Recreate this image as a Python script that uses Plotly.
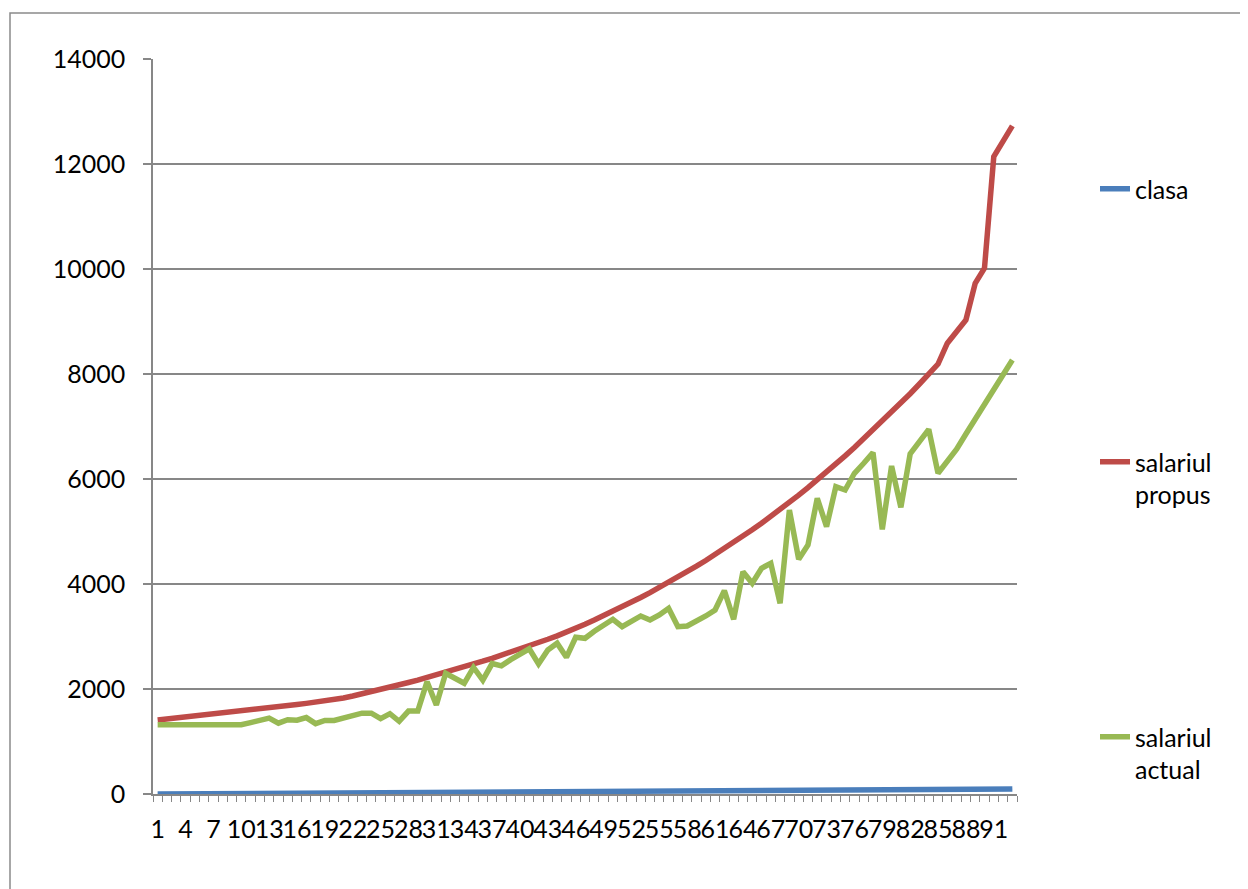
import plotly.graph_objects as go

# ---- data ----
classes = list(range(1, 94))
clasa = list(range(1, 94))
salariul_propus = [
    1410, 1428, 1446, 1464, 1483, 1502, 1521, 1540, 1560, 1580,
    1600, 1620, 1641, 1662, 1683, 1704, 1726, 1748, 1770, 1793,
    1828, 1866, 1905, 1945, 1988, 2032, 2077, 2123, 2170, 2218,
    2267, 2317, 2368, 2420, 2474, 2529, 2585, 2642, 2700, 2760,
    2821, 2883, 2947, 3012, 3079, 3155, 3233, 3313, 3395, 3479,
    3565, 3653, 3744, 3837, 3932, 4029, 4130, 4233, 4339, 4447,
    4558, 4672, 4789, 4909, 5032, 5157, 5286, 5418, 5554, 5693,
    5835, 5981, 6130, 6283, 6440, 6601, 6766, 6935, 7100, 7270,
    7445, 7625, 7810, 8000, 8190, 8586, 8808, 9030, 9729, 10015,
    12140, 12430, 12725,
]
salariul_actual = [
    1320, 1320, 1320, 1320, 1320, 1320, 1320, 1320, 1320, 1320,
    1360, 1400, 1445, 1350, 1415, 1405, 1455, 1340, 1400, 1400,
    1450, 1500, 1540, 1540, 1435, 1530, 1385, 1580, 1580, 2139,
    1695, 2299, 2210, 2109, 2410, 2170, 2485, 2440, 2560, 2658,
    2766, 2477, 2743, 2871, 2604, 2985, 2966, 3100, 3206, 3328,
    3187, 3301, 3391, 3315, 3410, 3537, 3187, 3200, 3282, 3391,
    3505, 3873, 3328, 4235, 4014, 4300, 4395, 3633, 5410, 4470,
    4743, 5633, 5092, 5854, 5791, 6109, 6300, 6502, 5042, 6248,
    5461, 6477, 6711, 6947, 6109, 6330, 6566, 6858, 7138, 7410,
    7696, 7982, 8268,
]
tick_classes = classes[::3]
tick_labels = [str(c) for c in tick_classes]
y_ticks = [0, 2000, 4000, 6000, 8000, 10000, 12000, 14000]
y_labels = [str(v) for v in y_ticks]

FONT = "Lato, 'Open Sans', sans-serif"
FS = 25
GRID = "#878787"
LW = 5.5

fig = go.Figure()
fig.add_trace(go.Scatter(x=classes, y=clasa, mode="lines", name="clasa",
                         line=dict(color="#4A7EBB", width=LW), legend="legend"))
fig.add_trace(go.Scatter(x=classes, y=salariul_propus, mode="lines",
                         name="salariul<br>propus",
                         line=dict(color="#BE4B48", width=LW), legend="legend2"))
fig.add_trace(go.Scatter(x=classes, y=salariul_actual, mode="lines",
                         name="salariul<br>actual",
                         line=dict(color="#98B954", width=LW), legend="legend3"))

W, H = 1240, 881
# page has an 8px offset; plot area in page px: x 153..1017, y 59..794
PL, PR, PT, PB = 153 - 8, 1017 - 8, 59 - 8, 794 - 8
PW, PH = PR - PL, PB - PT

def leg(px, py):
    return dict(x=px / W, y=1 - py / H, xref="container", yref="container",
                xanchor="left", yanchor="top", bgcolor="rgba(0,0,0,0)",
                font=dict(family=FONT, size=FS, color="#000"),
                valign="top", itemwidth=30, tracegroupgap=0)

fig.update_layout(
    width=W, height=H,
    margin=dict(l=PL, r=W - PR, t=PT, b=H - PB),
    paper_bgcolor="white", plot_bgcolor="white",
    font=dict(family=FONT, size=FS, color="#000"),
    showlegend=True,
    legend=leg(1087, 158),
    legend2=leg(1087, 431),
    legend3=leg(1087, 706),
    xaxis=dict(
        range=[0.5, 93.5], showgrid=False, zeroline=False,
        showline=True, linecolor=GRID, linewidth=1.5,
        tickmode="array", tickvals=tick_classes, ticktext=tick_labels,
        ticks="", tickangle=0, ticklabelstandoff=12,
        tickfont=dict(family=FONT, size=FS, color="#000"),
        minor=dict(tickmode="linear", tick0=0.5, dtick=1, ticks="outside",
                   ticklen=6, tickcolor=GRID, tickwidth=1.2, showgrid=False),
    ),
    yaxis=dict(
        range=[0, 14000], tickmode="array", tickvals=y_ticks, ticktext=y_labels,
        showgrid=True, gridcolor=GRID, gridwidth=1.5, zeroline=False,
        showline=True, linecolor=GRID, linewidth=1.5,
        ticks="outside", ticklen=8, tickcolor=GRID, tickwidth=1.5,
        ticklabelstandoff=13,
        tickfont=dict(family=FONT, size=FS, color="#000"),
    ),
    shapes=[dict(type="rect", xref="paper", yref="paper",
                 x0=(2 - PL) / PW, x1=(1260 - PL) / PW,
                 y0=(PB - 900) / PH, y1=(PB - 5) / PH,
                 line=dict(color="#8a8a8a", width=1.5), layer="below")],
)

fig.write_html("out.html")
